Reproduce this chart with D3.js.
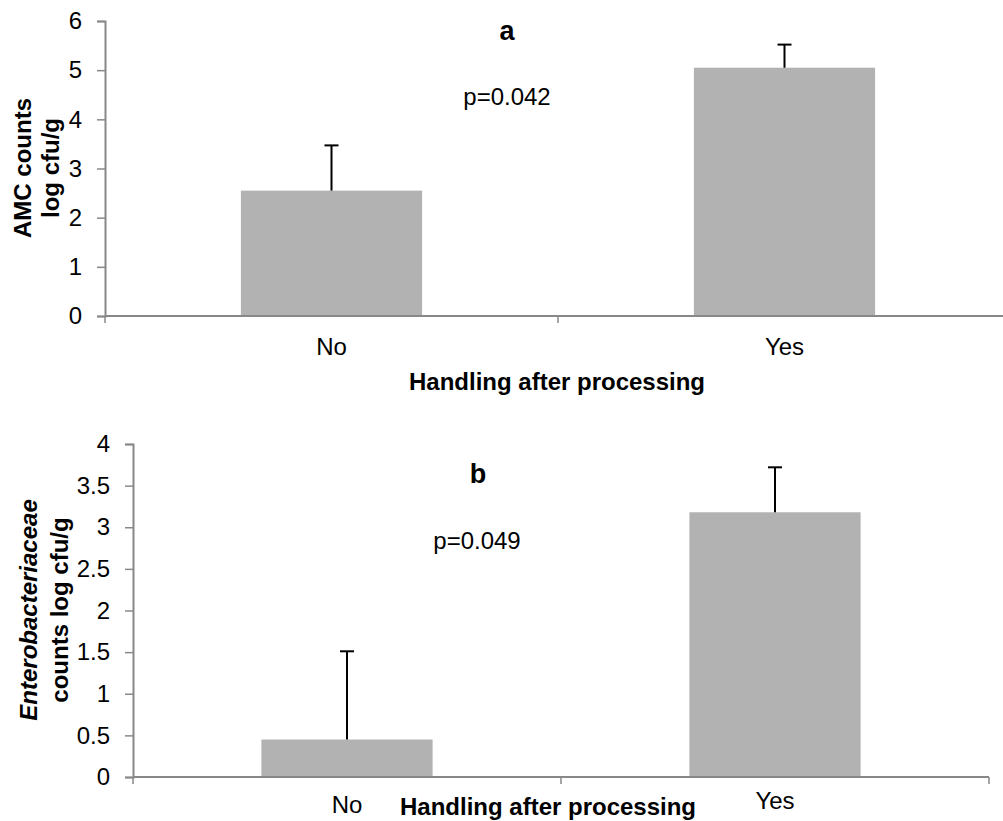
<!DOCTYPE html>
<html>
<head>
<meta charset="utf-8">
<script src="https://cdn.jsdelivr.net/npm/d3@7"></script>
<style>
  body { margin: 0; background: #fff; }
  svg { font-family: "Liberation Sans", Arial, sans-serif; }
</style>
</head>
<body>
<script>
// data
const categories = ["No", "Yes"]
const amcMeans = [2.55, 5.05]
const amcErr = [0.92, 0.47]
const amcTicks = [0, 1, 2, 3, 4, 5, 6]
const entMeans = [0.45, 3.18]
const entErr = [1.06, 0.54]
const entTicks = [0, 0.5, 1, 1.5, 2, 2.5, 3, 3.5, 4]

const FS = "24px"

const svg = d3.select("body").append("svg")
  .attr("width", 1003)
  .attr("height", 821)

//One panel = one Excel-ish bar chart with error bars
function panel(opt) {
  const x = d3.scaleBand().domain(categories).range([opt.left, opt.right])
  const y = d3.scaleLinear().domain(opt.domain).range([opt.bottom, opt.top])
  const g = svg.append("g")
  const barW = x.bandwidth() * 0.4

  // y axis
  const ya = g.append("g")
    .attr("transform", "translate(" + opt.left + ",0)")
    .call(d3.axisLeft(y).tickValues(opt.ticks).tickSize(8).tickPadding(15)
      .tickFormat(d => String(d)))
  ya.select(".domain").attr("stroke", "#888").attr("stroke-width", 2)
  ya.selectAll(".tick line").attr("stroke", "#888").attr("stroke-width", 1.5)
  ya.selectAll(".tick text").attr("font-size", FS).attr("fill", "#000")
    .attr("font-family", "Liberation Sans, Arial, sans-serif")

  // bars
  g.selectAll("rect.bar").data(opt.means).join("rect")
    .attr("class", "bar")
    .attr("x", (d, i) => x(categories[i]) + x.bandwidth() / 2 - barW / 2)
    .attr("width", barW)
    .attr("y", d => y(d))
    .attr("height", d => y(0) - y(d))
    .attr("fill", "#b2b2b2")

  // error bars (upper only)
  opt.means.forEach((m, i) => {
    const cx = x(categories[i]) + x.bandwidth() / 2
    g.append("line").attr("x1", cx).attr("x2", cx)
      .attr("y1", y(m)).attr("y2", y(m + opt.err[i]))
      .attr("stroke", "#000").attr("stroke-width", 2)
    g.append("line").attr("x1", cx - 7).attr("x2", cx + 7)
      .attr("y1", y(m + opt.err[i])).attr("y2", y(m + opt.err[i]))
      .attr("stroke", "#000").attr("stroke-width", 2)
  })

  // x axis: ticks on category boundaries
  g.append("line")
    .attr("x1", opt.left).attr("x2", opt.right)
    .attr("y1", y(0)).attr("y2", y(0))
    .attr("stroke", "#888").attr("stroke-width", 2)
  const bounds = [opt.left].concat(categories.map(c => x(c) + x.bandwidth()))
  g.selectAll("line.xtick").data(bounds).join("line")
    .attr("class", "xtick")
    .attr("x1", d => d).attr("x2", d => d)
    .attr("y1", y(0)).attr("y2", y(0) + 7)
    .attr("stroke", "#888").attr("stroke-width", 1.5)
  g.selectAll("text.xlab").data(categories).join("text")
    .attr("class", "xlab")
    .attr("x", d => x(d) + x.bandwidth() / 2)
    .attr("y", (d, i) => opt.labY[i])
    .attr("text-anchor", "middle")
    .attr("font-size", FS)
    .text(d => d)

  g.append("text")
    .attr("x", opt.titleX).attr("y", opt.titleY)
    .attr("text-anchor", "middle")
    .attr("font-size", FS).attr("font-weight", "bold")
    .text("Handling after processing")

  g.append("text")
    .attr("x", opt.letterX).attr("y", opt.letterY)
    .attr("text-anchor", "middle")
    .attr("font-size", "27px").attr("font-weight", "bold")
    .text(opt.letter)

  g.append("text")
    .attr("x", opt.pX).attr("y", opt.pY)
    .attr("text-anchor", "middle")
    .attr("font-size", FS)
    .text(opt.p)

  return g
}

const a = panel({
  left: 105, right: 1011, top: 21, bottom: 316,
  domain: [0, 6], ticks: amcTicks, means: amcMeans, err: amcErr,
  labY: [355, 355], titleX: 557, titleY: 390,
  letter: "a", letterX: 507, letterY: 40, p: "p=0.042", pX: 507, pY: 105
})
// rotated two-line y title
const ylabA = a.append("text")
  .attr("transform", "translate(0,168) rotate(-90)")
  .attr("text-anchor", "middle")
  .attr("font-size", FS).attr("font-weight", "bold")
ylabA.append("tspan").attr("x", 0).attr("y", 31).text("AMC counts")
ylabA.append("tspan").attr("x", 0).attr("y", 59).text("log cfu/g")

const b = panel({
  left: 133, right: 989, top: 444, bottom: 777,
  domain: [0, 4], ticks: entTicks, means: entMeans, err: entErr,
  labY: [813, 809], titleX: 548, titleY: 815,
  letter: "b", letterX: 478, letterY: 483, p: "p=0.049", pX: 477, pY: 549
})
const ylabB = b.append("text")
  .attr("transform", "translate(0,610) rotate(-90)")
  .attr("text-anchor", "middle")
  .attr("font-size", FS).attr("font-weight", "bold")
ylabB.append("tspan").attr("x", 0).attr("y", 37)
  .attr("font-style", "italic").text("Enterobacteriaceae")
ylabB.append("tspan").attr("x", 0).attr("y", 68).text("counts log cfu/g")
</script>
</body>
</html>
